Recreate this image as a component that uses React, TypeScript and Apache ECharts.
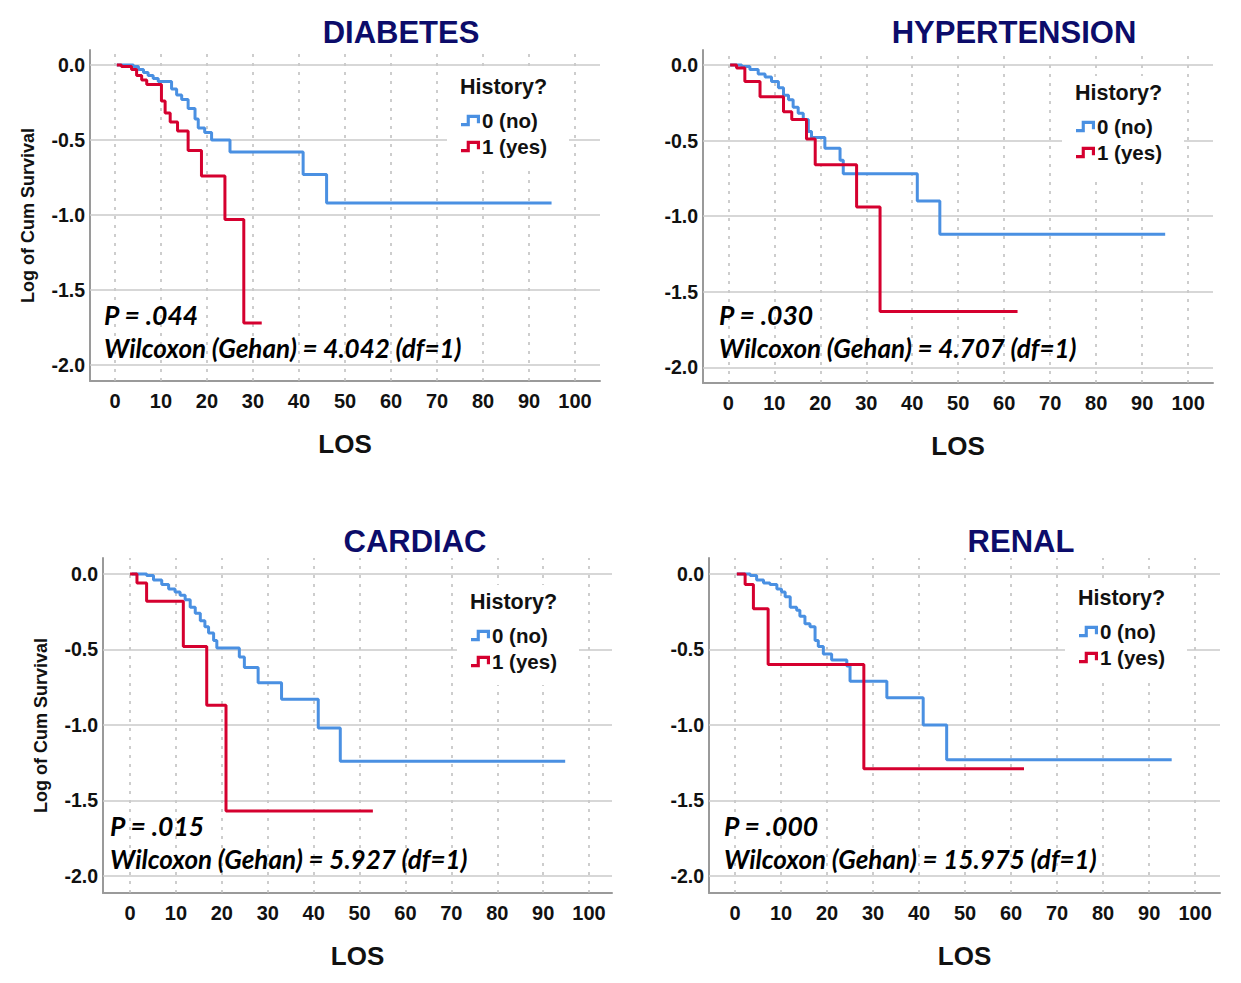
import React, { useEffect, useRef } from "react";
import * as echarts from "echarts";

// ---------- data ----------
const PANEL_TITLES = ["DIABETES", "HYPERTENSION", "CARDIAC", "RENAL"];
const GROUP_NAMES = ["0 (no)", "1 (yes)"];
const X_TICKS = [0, 10, 20, 30, 40, 50, 60, 70, 80, 90, 100];
const Y_TICKS = [0, -0.5, -1, -1.5, -2];
const X_NAME = "LOS";
const Y_NAME = "Log of Cum Survival";
const LEGEND_TITLE = "History?";
const P_TEXTS = ["P = .044", "P = .030", "P = .015", "P = .000"];
const WILCOXON_TEXTS = [
  "Wilcoxon (Gehan) = 4.042 (df=1)",
  "Wilcoxon (Gehan) = 4.707 (df=1)",
  "Wilcoxon (Gehan) = 5.927 (df=1)",
  "Wilcoxon (Gehan) = 15.975 (df=1)",
];

const diabetesNoTime = [0.4, 4.0, 5.1, 6.2, 7.2, 8.3, 9.4, 12.3, 13.4, 14.5, 15.9, 17.4, 18.1, 19.5, 21.0, 25.0, 40.9, 46.0, 94.9];
const diabetesNoLogSurv = [0, -0.01, -0.03, -0.05, -0.07, -0.09, -0.11, -0.16, -0.2, -0.23, -0.29, -0.36, -0.42, -0.45, -0.5, -0.58, -0.73, -0.92, -0.92];
const diabetesYesTime = [0.4, 1.4, 3.6, 4.7, 5.8, 6.9, 10.1, 10.9, 12.0, 13.6, 15.9, 18.8, 23.9, 28.0, 31.9];
const diabetesYesLogSurv = [0, -0.01, -0.03, -0.07, -0.1, -0.13, -0.24, -0.32, -0.38, -0.44, -0.57, -0.74, -1.03, -1.72, -1.72];

const hyperNoTime = [0.4, 2.9, 4.7, 6.5, 8.0, 9.4, 10.9, 12.0, 13.1, 14.1, 15.2, 16.3, 17.4, 18.1, 21.0, 24.3, 25.0, 41.1, 46.0, 95.0];
const hyperNoLogSurv = [0, -0.01, -0.03, -0.06, -0.08, -0.11, -0.15, -0.2, -0.23, -0.28, -0.32, -0.36, -0.44, -0.48, -0.55, -0.63, -0.72, -0.9, -1.12, -1.12];
const hyperYesTime = [0.4, 1.8, 3.6, 6.9, 12.0, 13.8, 17.0, 18.9, 27.9, 33.0, 62.9];
const hyperYesLogSurv = [0, -0.02, -0.11, -0.21, -0.31, -0.36, -0.49, -0.66, -0.94, -1.63, -1.63];

const cardiacNoTime = [0.4, 3.6, 5.1, 6.9, 8.4, 9.8, 10.9, 12.0, 13.1, 14.2, 15.3, 16.3, 17.1, 18.2, 18.9, 23.8, 24.9, 27.9, 33.0, 41.0, 45.8, 94.8];
const cardiacNoLogSurv = [0, -0.01, -0.04, -0.07, -0.1, -0.12, -0.14, -0.17, -0.22, -0.26, -0.31, -0.35, -0.39, -0.44, -0.49, -0.55, -0.62, -0.72, -0.83, -1.02, -1.24, -1.24];
const cardiacYesTime = [0, 1.5, 3.6, 11.6, 16.7, 20.9, 52.9];
const cardiacYesLogSurv = [0, -0.06, -0.18, -0.48, -0.87, -1.57, -1.57];

const renalNoTime = [0.4, 3.3, 4.7, 6.2, 7.6, 9.1, 10.1, 10.9, 12.0, 13.4, 14.1, 15.2, 16.3, 17.4, 18.1, 19.2, 21.0, 24.3, 25.0, 33.0, 40.9, 46.0, 94.9];
const renalNoLogSurv = [0, -0.01, -0.04, -0.06, -0.07, -0.1, -0.12, -0.15, -0.22, -0.24, -0.28, -0.33, -0.35, -0.44, -0.48, -0.53, -0.57, -0.61, -0.71, -0.82, -1.0, -1.23, -1.23];
const renalYesTime = [0.4, 2.2, 4.0, 7.2, 28.0, 62.8];
const renalYesLogSurv = [0, -0.07, -0.23, -0.6, -1.29, -1.29];

const CURVES = [
  [[diabetesNoTime, diabetesNoLogSurv], [diabetesYesTime, diabetesYesLogSurv]],
  [[hyperNoTime, hyperNoLogSurv], [hyperYesTime, hyperYesLogSurv]],
  [[cardiacNoTime, cardiacNoLogSurv], [cardiacYesTime, cardiacYesLogSurv]],
  [[renalNoTime, renalNoLogSurv], [renalYesTime, renalYesLogSurv]],
];

// ---------- layout / style ----------
const FONT = "Arial, 'Liberation Sans', Helvetica, sans-serif";
const ANNOT_FONT = "Lato, 'Open Sans', sans-serif";
const COLORS = ["#4a90e2", "#d5002f"];
const TITLE_COLOR = "#0c0c6a";
const TEXT_COLOR = "#111111";
const STEP_ICON = "path://M0,8.7H6V0H20V9H16.7V3.3H9.3V12H0Z";

const PANELS = [
  { left: 90, top: 50, right: 600, bottom: 381, xMin: -5.43, xMax: 105.43, yMin: -2.107, yMax: 0.1,
    titleX: 401, titleY: 17, yName: true, histX: 460, histY: 87, legX: 461, legY: 110,
    box: [447, 70, 122, 100], annX: 104, pY: 315, wY: 348 },
  { left: 703, top: 50, right: 1213, bottom: 383, xMin: -5.5, xMax: 105.4, yMin: -2.103, yMax: 0.099,
    titleX: 1014, titleY: 17, yName: false, histX: 1075, histY: 93, legX: 1076, legY: 116,
    box: [1062, 76, 122, 100], annX: 719, pY: 315, wY: 348 },
  { left: 103, top: 558, right: 612, bottom: 893, xMin: -5.9, xMax: 105.0, yMin: -2.113, yMax: 0.106,
    titleX: 415, titleY: 526, yName: true, histX: 470, histY: 602, legX: 471, legY: 625,
    box: [457, 585, 122, 100], annX: 110, pY: 826, wY: 859 },
  { left: 709, top: 558, right: 1220, bottom: 893, xMin: -5.65, xMax: 105.4, yMin: -2.113, yMax: 0.106,
    titleX: 1021, titleY: 526, yName: false, histX: 1078, histY: 598, legX: 1079, legY: 621,
    box: [1065, 581, 122, 100], annX: 724, pY: 826, wY: 859 },
];

function buildOption() {
  const gridMarkLine = {
    silent: true,
    symbol: ["none", "none"],
    z: 1,
    label: { show: false },
    emphasis: { disabled: true },
    animation: false,
    data: [
      ...X_TICKS.map((v) => ({ xAxis: v, lineStyle: { type: [3, 6], color: "#bdbdbd", width: 1.5 } })),
      ...Y_TICKS.map((v) => ({ yAxis: v, lineStyle: { type: "solid", color: "#cacaca", width: 1.5 } })),
    ],
  };

  const series: any[] = [];
  CURVES.forEach((pair, i) => {
    pair.forEach(([times, vals], g) => {
      series.push({
        type: "line",
        name: GROUP_NAMES[g],
        xAxisIndex: i,
        yAxisIndex: i,
        step: "end",
        symbol: "none",
        showSymbol: false,
        z: 3,
        data: times.map((t, k) => [t, vals[k]]),
        lineStyle: { color: COLORS[g], width: 3 },
        itemStyle: { color: COLORS[g] },
        emphasis: { disabled: true },
        markLine: g === 0 ? gridMarkLine : undefined,
      });
    });
  });

  const graphic: any[] = [];
  PANELS.forEach((p, i) => {
    graphic.push({
      type: "rect",
      z: 2,
      silent: true,
      shape: { x: p.box[0], y: p.box[1], width: p.box[2], height: p.box[3] },
      style: { fill: "#ffffff" },
    });
    graphic.push({
      type: "text",
      z: 10,
      x: p.histX,
      y: p.histY,
      style: { text: LEGEND_TITLE, fontSize: 21.5, fontWeight: "bold", fontFamily: FONT, fill: TEXT_COLOR, align: "left", verticalAlign: "middle" },
    });
    graphic.push({
      type: "text",
      z: 10,
      x: p.annX,
      y: p.pY,
      style: { text: P_TEXTS[i], fontSize: 26.5, fontWeight: "bold", fontStyle: "italic", fontFamily: ANNOT_FONT, fill: "#000", align: "left", verticalAlign: "middle" },
    });
    graphic.push({
      type: "text",
      z: 10,
      x: p.annX,
      y: p.wY,
      style: { text: WILCOXON_TEXTS[i], fontSize: 26, fontWeight: "bold", fontStyle: "italic", fontFamily: ANNOT_FONT, fill: "#000", align: "left", verticalAlign: "middle" },
    });
  });

  return {
    animation: false,
    backgroundColor: "#ffffff",
    title: PANELS.map((p, i) => ({
      text: PANEL_TITLES[i],
      left: p.titleX,
      top: p.titleY,
      textAlign: "center",
      padding: 0,
      textStyle: { fontSize: 31, fontWeight: "bold", color: TITLE_COLOR, fontFamily: FONT },
    })),
    legend: PANELS.map((p) => ({
      orient: "vertical",
      left: p.legX,
      top: p.legY,
      padding: 0,
      itemWidth: 19,
      itemHeight: 12,
      itemGap: 5,
      icon: STEP_ICON,
      selectedMode: false,
      data: GROUP_NAMES,
      itemStyle: { borderWidth: 0 },
      textStyle: { fontSize: 20.5, fontWeight: "bold", color: TEXT_COLOR, fontFamily: FONT, padding: [0, 0, 0, -3] },
    })),
    grid: PANELS.map((p) => ({
      left: p.left,
      top: p.top,
      width: p.right - p.left,
      height: p.bottom - p.top,
      containLabel: false,
    })),
    xAxis: PANELS.map((p, i) => ({
      type: "value",
      gridIndex: i,
      min: p.xMin,
      max: p.xMax,
      name: X_NAME,
      nameLocation: "middle",
      nameGap: 50,
      nameTextStyle: { fontSize: 26, fontWeight: "bold", color: TEXT_COLOR, fontFamily: FONT },
      axisLine: { show: true, onZero: false, lineStyle: { color: "#9a9a9a", width: 2 } },
      axisTick: { show: false },
      splitLine: { show: false },
      axisLabel: {
        customValues: X_TICKS,
        margin: 10,
        fontSize: 20,
        fontWeight: "bold",
        color: TEXT_COLOR,
        fontFamily: FONT,
      },
    })),
    yAxis: PANELS.map((p, i) => ({
      type: "value",
      gridIndex: i,
      min: p.yMin,
      max: p.yMax,
      name: p.yName ? Y_NAME : "",
      nameLocation: "middle",
      nameGap: 53,
      nameTextStyle: { fontSize: 18, fontWeight: "bold", color: TEXT_COLOR, fontFamily: FONT },
      axisLine: { show: true, onZero: false, lineStyle: { color: "#9a9a9a", width: 2 } },
      axisTick: { show: false },
      splitLine: { show: false },
      axisLabel: {
        customValues: Y_TICKS,
        margin: 5,
        fontSize: 19.5,
        fontWeight: "bold",
        color: TEXT_COLOR,
        fontFamily: FONT,
        padding: [6, 0, 0, 0],
        formatter: (v: number) => v.toFixed(1),
      },
    })),
    series,
    graphic,
  };
}

export default function App() {
  const ref = useRef<HTMLDivElement>(null);
  useEffect(() => {
    if (!ref.current) return;
    const chart = echarts.init(ref.current, undefined, { renderer: "svg" });
    chart.setOption(buildOption() as any);
    return () => chart.dispose();
  }, []);
  return (
    <div
      ref={ref}
      style={{ position: "absolute", left: 0, top: 0, width: 1241, height: 983, background: "#fff" }}
    />
  );
}
